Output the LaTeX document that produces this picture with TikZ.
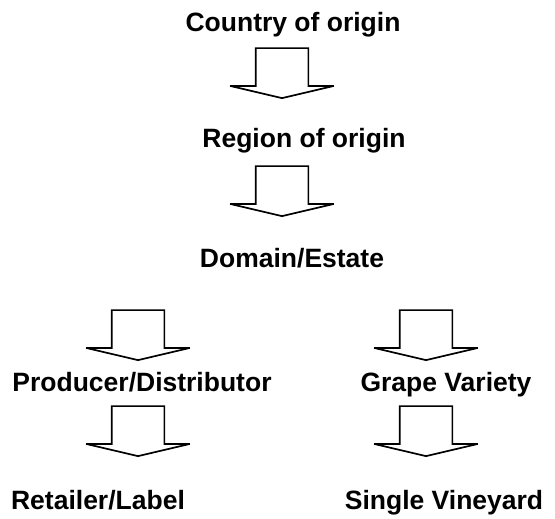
\documentclass[tikz,border=0pt]{standalone}
\usepackage{fontspec}
\setmainfont{Liberation Sans}
\usepackage{tikz}
\usetikzlibrary{shapes.arrows}

\begin{document}
\begin{tikzpicture}[
    x=1pt, y=1pt,
    level/.style={font=\fontsize{26.5}{30}\selectfont\bfseries, anchor=base, inner sep=0pt},
    blockarr/.style={single arrow, draw=black, fill=white, line width=1.7pt, miter limit=3,
      inner xsep=25.5pt, inner ysep=0pt,
      shape border rotate=270, minimum height=50pt,
      single arrow head extend=25.5pt, single arrow tip angle=153.5, anchor=tip},
]
\useasboundingbox (0,0) rectangle (555,-519);

% ─── Main line ───
\node[level] (country) at (293,-32) {Country of origin};
\node[blockarr] (arr1) at (282,-99) {};
\node[level] (region) at (304,-147) {Region of origin};
\node[blockarr] (arr2) at (282,-217) {};
\node[level] (domain) at (292,-267) {Domain/Estate};

% ─── Left branch ───
\node[blockarr] (arr3) at (138,-361) {};
\node[level] (producer) at (142,-391) {Producer/Distributor};
\node[blockarr] (arr5) at (138,-457) {};
\node[level] (retailer) at (98,-509) {Retailer/Label};

% ─── Right branch ───
\node[blockarr] (arr4) at (426,-361) {};
\node[level] (grape) at (446,-391) {Grape Variety};
\node[blockarr] (arr6) at (426,-457) {};
\node[level] (vineyard) at (444,-509) {Single Vineyard};

\end{tikzpicture}
\end{document}
